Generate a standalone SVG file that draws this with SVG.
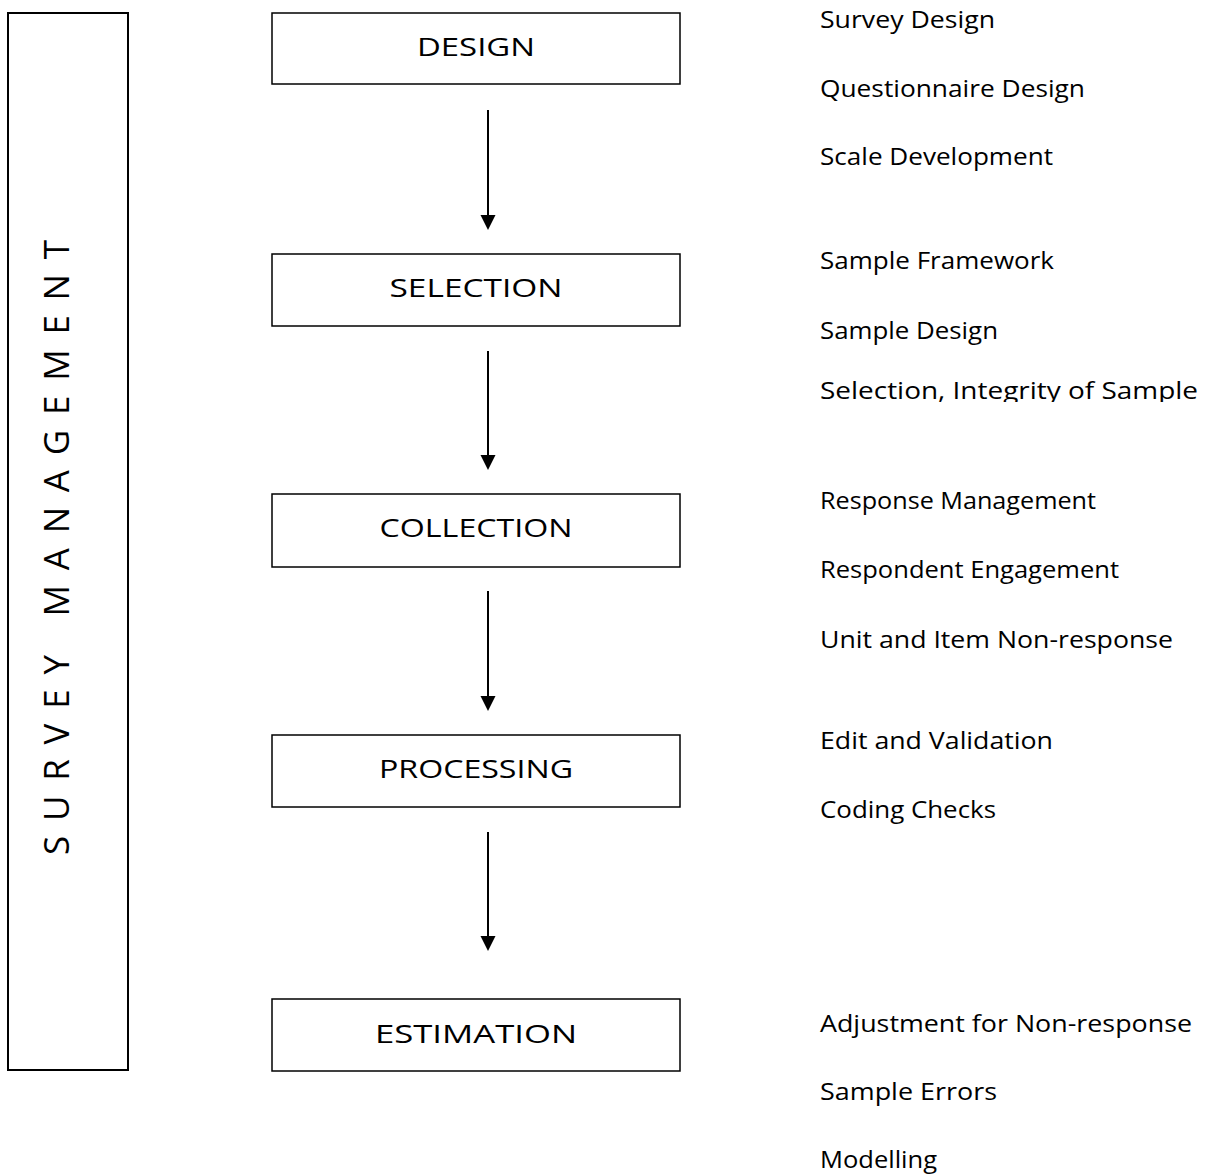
<svg xmlns="http://www.w3.org/2000/svg" width="1208" height="1175" viewBox="0 0 1208 1175">
<style>
  text { font-family: "Open Sans", "DejaVu Sans", sans-serif; fill: #000; }
  .box { fill: #fff; stroke: #000; stroke-width: 1.5; }
  .lbl { font-size: 25px; text-anchor: middle; }
  .item { font-size: 23px; }
  .conn { stroke: #000; stroke-width: 2; fill: none; }
  .vert { font-size: 35px; white-space: pre; }
</style>
<defs>
  <clipPath id="clipSel"><rect x="800" y="370" width="408" height="32"/></clipPath>
</defs>
<rect width="1208" height="1175" fill="#fff"/>

<g id="survey-management">
  <rect x="8" y="13" width="120" height="1057" fill="#fff" stroke="#000" stroke-width="2"/>
  <text class="vert" xml:space="preserve" transform="translate(69,855) rotate(-90)" x="0" y="0" textLength="615" lengthAdjust="spacing">S U R V E Y   M A N A G E M E N T</text>
</g>

<g id="connectors">
  <line class="conn" x1="488" y1="110" x2="488" y2="216"/>
  <path d="M480.5,215 L495.5,215 L488,230 Z" fill="#000"/>
  <line class="conn" x1="488" y1="351" x2="488" y2="456"/>
  <path d="M480.5,455 L495.5,455 L488,470 Z" fill="#000"/>
  <line class="conn" x1="488" y1="591" x2="488" y2="697"/>
  <path d="M480.5,696 L495.5,696 L488,711 Z" fill="#000"/>
  <line class="conn" x1="488" y1="832" x2="488" y2="937"/>
  <path d="M480.5,936 L495.5,936 L488,951 Z" fill="#000"/>
</g>

<g id="design">
  <rect class="box" x="272" y="13" width="408" height="71"/>
  <text class="lbl" x="476" y="56" textLength="118" lengthAdjust="spacingAndGlyphs">DESIGN</text>
</g>
<g id="selection">
  <rect class="box" x="272" y="254" width="408" height="72"/>
  <text class="lbl" x="476" y="297" textLength="173" lengthAdjust="spacingAndGlyphs">SELECTION</text>
</g>
<g id="collection">
  <rect class="box" x="272" y="494" width="408" height="73"/>
  <text class="lbl" x="476" y="537" textLength="193" lengthAdjust="spacingAndGlyphs">COLLECTION</text>
</g>
<g id="processing">
  <rect class="box" x="272" y="735" width="408" height="72"/>
  <text class="lbl" x="476" y="778" textLength="194" lengthAdjust="spacingAndGlyphs">PROCESSING</text>
</g>
<g id="estimation">
  <rect class="box" x="272" y="999" width="408" height="72"/>
  <text class="lbl" x="476" y="1043" textLength="202" lengthAdjust="spacingAndGlyphs">ESTIMATION</text>
</g>

<g id="design-items">
  <text class="item" x="820" y="28" textLength="175" lengthAdjust="spacingAndGlyphs">Survey Design</text>
  <text class="item" x="820" y="97" textLength="265" lengthAdjust="spacingAndGlyphs">Questionnaire Design</text>
  <text class="item" x="820" y="165" textLength="233" lengthAdjust="spacingAndGlyphs">Scale Development</text>
</g>
<g id="selection-items">
  <text class="item" x="820" y="269" textLength="234" lengthAdjust="spacingAndGlyphs">Sample Framework</text>
  <text class="item" x="820" y="339" textLength="178" lengthAdjust="spacingAndGlyphs">Sample Design</text>
  <text class="item" x="820" y="399" textLength="378" lengthAdjust="spacingAndGlyphs" clip-path="url(#clipSel)">Selection, Integrity of Sample</text>
</g>
<g id="collection-items">
  <text class="item" x="820" y="509" textLength="276" lengthAdjust="spacingAndGlyphs">Response Management</text>
  <text class="item" x="820" y="578" textLength="299" lengthAdjust="spacingAndGlyphs">Respondent Engagement</text>
  <text class="item" x="820" y="648" textLength="353" lengthAdjust="spacingAndGlyphs">Unit and Item Non-response</text>
</g>
<g id="processing-items">
  <text class="item" x="820" y="749" textLength="233" lengthAdjust="spacingAndGlyphs">Edit and Validation</text>
  <text class="item" x="820" y="818" textLength="176" lengthAdjust="spacingAndGlyphs">Coding Checks</text>
</g>
<g id="estimation-items">
  <text class="item" x="820" y="1032" textLength="372" lengthAdjust="spacingAndGlyphs">Adjustment for Non-response</text>
  <text class="item" x="820" y="1100" textLength="177" lengthAdjust="spacingAndGlyphs">Sample Errors</text>
  <text class="item" x="820" y="1168" textLength="117" lengthAdjust="spacingAndGlyphs">Modelling</text>
</g>
</svg>
